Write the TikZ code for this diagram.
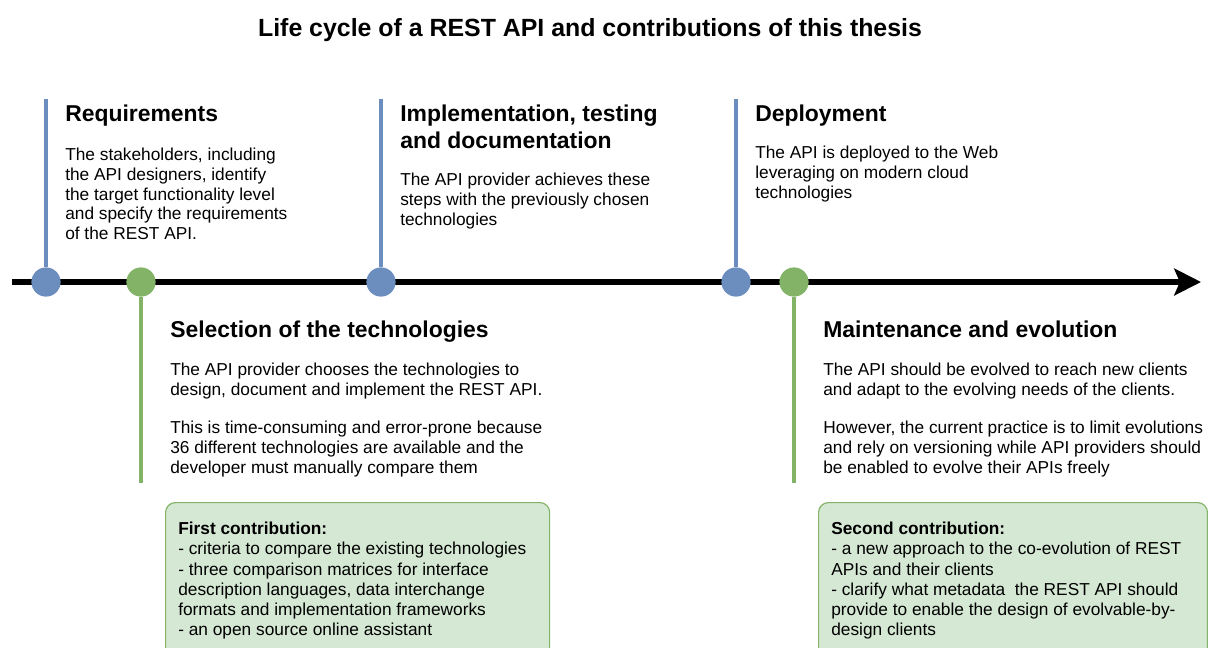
\documentclass[tikz,border=0pt]{standalone}
\usepackage{fontspec}
\setmainfont{Liberation Sans}
\usetikzlibrary{arrows.meta}
\definecolor{stepblue}{HTML}{6C8EBF}
\definecolor{stepgreen}{HTML}{82B366}
\definecolor{notefill}{HTML}{D5E8D4}

\begin{document}
\begin{tikzpicture}[x=0.025cm, y=-0.025cm,
		dot/.style = {circle, inner sep=0pt, minimum size=0.73cm},
		bluedot/.style = {dot, fill=stepblue},
		greendot/.style = {dot, fill=stepgreen},
		bluestem/.style = {draw=stepblue, line width=2.6pt},
		greenstem/.style = {draw=stepgreen, line width=2.6pt},
		axis/.style = {line width=4.6pt, -{Stealth[length=19pt, width=19pt, inset=4pt]}},
		title/.style = {anchor=north, inner sep=0pt, font=\fontsize{17.7}{21}\selectfont\bfseries},
		head/.style = {anchor=north west, inner sep=0pt, align=left, font=\fontsize{16.3}{19.2}\selectfont\bfseries},
		body/.style = {anchor=north west, inner sep=0pt, align=left, font=\fontsize{12.3}{14}\selectfont},
		notetext/.style = {body, font=\fontsize{12.3}{14.3}\selectfont},
		note/.style = {draw=stepgreen, fill=notefill, rounded corners=7pt, line width=0.8pt, anchor=north west, minimum height=4.5cm}]
	\useasboundingbox (0,0) rectangle (1208,647);
	\clip (0,0) rectangle (1208,647);

	\node[title] (title) at (590,18) {Life cycle of a REST API and contributions of this thesis};

	% time line
	\coordinate (start) at (12,282);
	\coordinate (end) at (1201,282);
	\draw[axis] (start) -- (end);

	% milestones
	\node[bluedot] (req) at (46,282) {};
	\node[greendot] (sel) at (141,282) {};
	\node[bluedot] (impl) at (381,282) {};
	\node[bluedot] (dep) at (736,282) {};
	\node[greendot] (evo) at (794,282) {};

	\coordinate (req top) at (46,99);
	\coordinate (impl top) at (381,99);
	\coordinate (dep top) at (736,99);
	\coordinate (sel bottom) at (141,483);
	\coordinate (evo bottom) at (794,483);
	\draw[bluestem] (req) -- (req top);
	\draw[bluestem] (impl) -- (impl top);
	\draw[bluestem] (dep) -- (dep top);
	\draw[greenstem] (sel) -- (sel bottom);
	\draw[greenstem] (evo) -- (evo bottom);

	% upper steps
	\node[head] (req head) at (65,105) {Requirements};
	\node[body] (req text) at (65,148) {The stakeholders, including\\the API designers, identify\\the target functionality level\\and specify the requirements\\of the REST API.};

	\node[head] (impl head) at (400,105) {Implementation, testing\\and documentation};
	\node[body] (impl text) at (400,173) {The API provider achieves these\\steps with the previously chosen\\technologies};

	\node[head] (dep head) at (755,105) {Deployment};
	\node[body] (dep text) at (755,146) {The API is deployed to the Web\\leveraging on modern cloud\\technologies};

	% lower steps
	\node[head] (sel head) at (170,321) {Selection of the technologies};
	\node[body] (sel text) at (170,363) {The API provider chooses the technologies to\\design, document and implement the REST API.};
	\node[body] (sel more) at (170,421) {This is time-consuming and error-prone because\\36 different technologies are available and the\\developer must manually compare them};

	\node[head] (evo head) at (823,321) {Maintenance and evolution};
	\node[body] (evo text) at (823,363) {The API should be evolved to reach new clients\\and adapt to the evolving needs of the clients.};
	\node[body] (evo more) at (823,421) {However, the current practice is to limit evolutions\\and rely on versioning while API providers should\\be enabled to evolve their APIs freely};

	% contributions
	\node[note, minimum width=9.6cm] (first) at (165,502) {};
	\node[notetext] (first text) at ([shift={(13,20)}]first.north west) {\textbf{First contribution:}\\- criteria to compare the existing technologies\\- three comparison matrices for interface\\description languages, data interchange\\formats and implementation frameworks\\- an open source online assistant};

	\node[note, minimum width=9.72cm] (second) at (818,502) {};
	\node[notetext] (second text) at ([shift={(13,20)}]second.north west) {\textbf{Second contribution:}\\- a new approach to the co-evolution of REST\\APIs and their clients\\- clarify what metadata\ \ the REST API should\\provide to enable the design of evolvable-by-\\design clients};
\end{tikzpicture}
\end{document}
